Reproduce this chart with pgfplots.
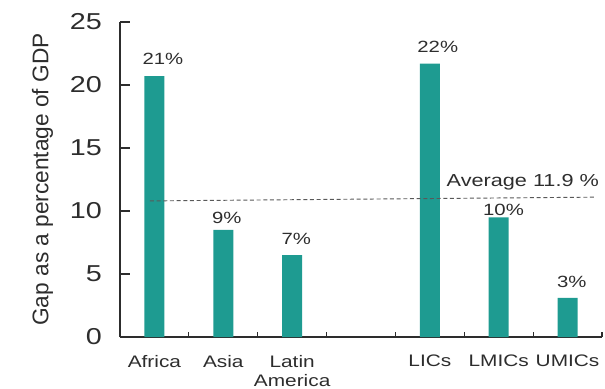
\documentclass[border=0pt]{standalone}
\usepackage{pgfplots}
\pgfplotsset{compat=1.18}
\usepackage{fontspec}
\setmainfont{Liberation Sans}[FakeStretch=1.25]
\newfontfamily\plainsans{Liberation Sans}
\definecolor{barteal}{RGB}{30,155,145}
\definecolor{axisgray}{RGB}{45,45,45}
\begin{document}
\begin{tikzpicture}
\begin{axis}[
  name=ax,
  scale only axis,
  width=361.5pt, height=236.25pt,
  xmin=-0.5, xmax=6.5, ymin=0, ymax=25,
  axis x line*=bottom, axis y line*=left,
  axis line style={-, draw=axisgray, line width=0.9pt},
  ytick={0,5,10,15,20,25},
  xtick={0,1,2,4,5,6},
  xticklabels={Africa,Asia,{Latin\\America},LICs,LMICs,UMICs},
  minor xtick={0.5,1.5,2.5,3.5,4.5,5.5,6.5},
  major x tick style={draw=none},
  tick align=inside,
  major tick length=7.5pt,
  minor tick length=3.75pt,
  tick style={draw=axisgray, line width=0.8pt},
  /pgf/number format/assume math mode=true,
  yticklabel style={font=\fontsize{17.25}{18}\selectfont, color=axisgray, xshift=-10pt},
  xticklabel style={font=\fontsize{12.5}{14.25}\selectfont, align=center, color=axisgray, anchor=north, yshift=-10pt},
  ylabel={Gap as a percentage of GDP},
  ylabel style={font=\plainsans\fontsize{17}{18}\selectfont, color=axisgray,
    at={(axis description cs:0,0.5)}, anchor=south, inner sep=0pt, yshift=50pt},
  clip=false,
]
\addplot[ybar, bar width=15pt, fill=barteal, draw=none] coordinates {
  (0,20.7) (1,8.5) (2,6.5) (4,21.7) (5,9.5) (6,3.1)
};
\addplot[dashed, dash pattern=on 3pt off 2pt, color=gray!70!black, line width=0.7pt] coordinates {
  (-0.065,10.8) (6.42,11.1)
};
\begin{scope}[every node/.style={font=\fontsize{12.2}{13}\selectfont, color=axisgray}]
\node at (axis cs:0.124,22.06) {21\%};
\node at (axis cs:1.05,9.48) {9\%};
\node at (axis cs:2.06,7.78) {7\%};
\node at (axis cs:4.115,23.0) {22\%};
\node at (axis cs:5.07,10.08) {10\%};
\node at (axis cs:6.06,4.37) {3\%};
\end{scope}
\node[font=\fontsize{13}{14}\selectfont, color=axisgray] at (axis cs:5.35,12.3) {Average 11.9 \%};
\end{axis}
\pgfresetboundingbox
\path[use as bounding box] ([xshift=-90pt,yshift=-38.25pt]ax.south west) rectangle ++(453.75pt,291pt);
\end{tikzpicture}
\end{document}
